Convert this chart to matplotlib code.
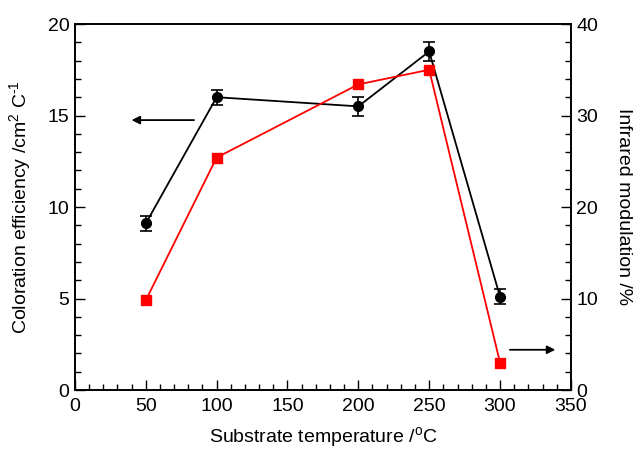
import numpy as np
from matplotlib import pyplot as plt
from matplotlib.ticker import MultipleLocator

plt.rcParams['font.family'] = ['Liberation Sans', 'DejaVu Sans']
plt.rcParams['mathtext.fontset'] = 'custom'
plt.rcParams['mathtext.rm'] = 'Liberation Sans'

# data
temperature = [50, 100, 200, 250, 300]
coloration = [9.1, 16.0, 15.5, 18.5, 5.1]
coloration_err = [0.4, 0.4, 0.5, 0.5, 0.4]
ir_modulation = [9.8, 25.4, 33.4, 35.0, 3.0]

fig = plt.figure(figsize=(6.35, 4.53), dpi=100)
ax = fig.add_axes([0.118, 0.139, 0.781, 0.808])
ax2 = ax.twinx()

ax.errorbar(temperature, coloration, yerr=coloration_err, color="black",
            marker="o", ms=7, lw=1.3, capsize=4, elinewidth=1.2, capthick=1.2, zorder=3)
ax2.plot(temperature, ir_modulation, color="red", marker="s", ms=6.5, lw=1.3)

ax.set_xlim(0, 350)
ax.set_ylim(0, 20)
ax2.set_ylim(0, 40)

ax.xaxis.set_major_locator(MultipleLocator(50))
ax.xaxis.set_minor_locator(MultipleLocator(10))
ax.yaxis.set_major_locator(MultipleLocator(5))
ax.yaxis.set_minor_locator(MultipleLocator(1))
ax2.yaxis.set_major_locator(MultipleLocator(10))
ax2.yaxis.set_minor_locator(MultipleLocator(2))

for a in (ax, ax2):
    a.tick_params(which="major", direction="in", length=7, width=1, labelsize=14)
    a.tick_params(which="minor", direction="in", length=4, width=1)
    for s in a.spines.values():
        s.set_linewidth(1.2)
ax.tick_params(axis="x", pad=6)
ax.tick_params(axis="y", pad=4)
ax2.tick_params(axis="y", pad=4)

ax.set_xlabel("Substrate temperature /$^{\\mathrm{o}}$C", fontsize=14, labelpad=7)
ax.set_ylabel("Coloration efficiency /cm$^{\\mathrm{2}}$ C$^{\\mathrm{\\text{-}1}}$",
              fontsize=14, labelpad=10)
ax2.set_ylabel("Infrared modulation /%", fontsize=14, rotation=270, labelpad=24)

# arrows pointing to the axes
ax.annotate("", xy=(38, 14.75), xytext=(86, 14.75),
            arrowprops=dict(arrowstyle="-|>", color="black", lw=1.3, mutation_scale=12))
ax2.annotate("", xy=(341, 4.4), xytext=(305, 4.4),
             arrowprops=dict(arrowstyle="-|>", color="black", lw=1.3, mutation_scale=12))

plt.savefig("out.png", dpi=100)
